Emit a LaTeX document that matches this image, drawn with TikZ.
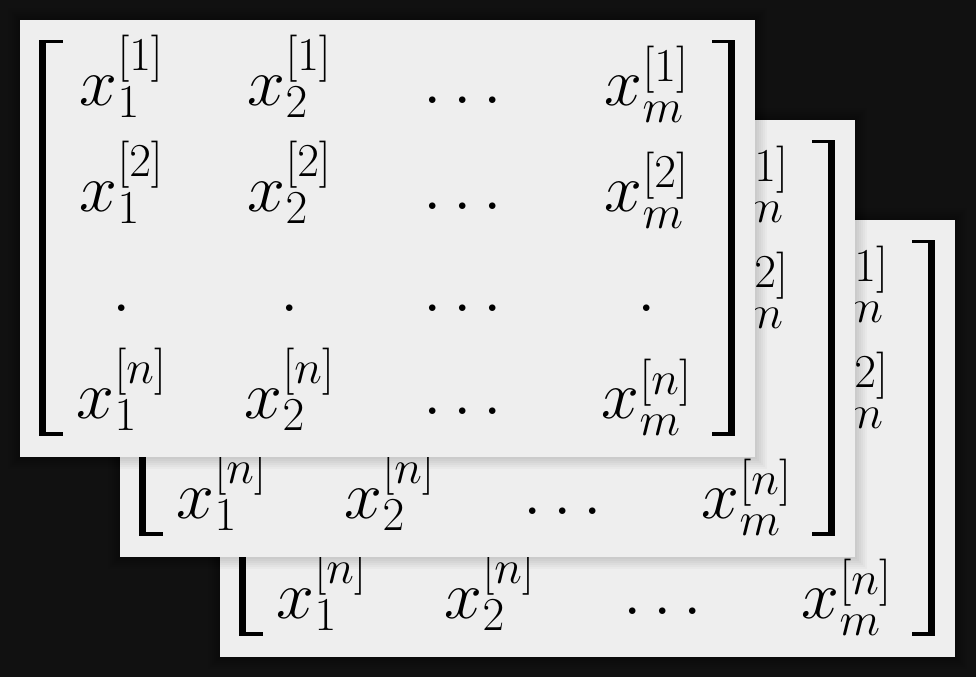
\documentclass[tikz,border=0pt]{standalone}
\DeclareMathSizes{24.88}{24.88}{17.4}{12.4}
\definecolor{bgdark}{HTML}{111111}
\definecolor{cardgrey}{HTML}{EEEEEE}
\tikzset{
  card/.style={fill=cardgrey},
  cardshadow/.style={fill=black, opacity=0.025},
  brk/.style={fill=black},
  entry/.style={anchor=base, font=\Huge, inner sep=0pt}
}
\begin{document}
\begin{tikzpicture}[x=0.366pt,y=-0.366pt]
\fill[bgdark] (0,0) rectangle (976,677);
\useasboundingbox (0,0) rectangle (976,677);
\foreach \k in {3,2,1}{
\begin{scope}[shift={({(\k-1)*100},{(\k-1)*100})}]
% card with soft shadow
\foreach \i in {1,...,6}
  \fill[cardshadow] ({20-\i*2},{20-\i*2}) rectangle ({755+\i*2},{457+\i*2});
\fill[card] (20,20) rectangle (755,457);
% brackets
\fill[brk] (39,40) rectangle (46,436);
\fill[brk] (39,40) rectangle (63,43.5);
\fill[brk] (39,432.5) rectangle (63,436);
\fill[brk] (728,40) rectangle (735,436);
\fill[brk] (712,40) rectangle (735,43.5);
\fill[brk] (712,432.5) rectangle (735,436);
% entries
\node[entry] (m\k-11) at (122,106) {$x_1^{[1]}$};
\node[entry] (m\k-12) at (290,106) {$x_2^{[1]}$};
\node[entry] (m\k-13) at (463,104) {$\ldots$};
\node[entry] (m\k-14) at (647,106) {$x_m^{[1]}$};
\node[entry] (m\k-21) at (122,212) {$x_1^{[2]}$};
\node[entry] (m\k-22) at (290,212) {$x_2^{[2]}$};
\node[entry] (m\k-23) at (463,210) {$\ldots$};
\node[entry] (m\k-24) at (647,212) {$x_m^{[2]}$};
\node[entry] (m\k-31) at (122,312) {$.$};
\node[entry] (m\k-32) at (290,312) {$.$};
\node[entry] (m\k-33) at (463,312) {$\ldots$};
\node[entry] (m\k-34) at (647,312) {$.$};
\node[entry] (m\k-41) at (122,419) {$x_1^{[n]}$};
\node[entry] (m\k-42) at (290,419) {$x_2^{[n]}$};
\node[entry] (m\k-43) at (463,415) {$\ldots$};
\node[entry] (m\k-44) at (647,419) {$x_m^{[n]}$};
\end{scope}
}
\end{tikzpicture}
\end{document}
